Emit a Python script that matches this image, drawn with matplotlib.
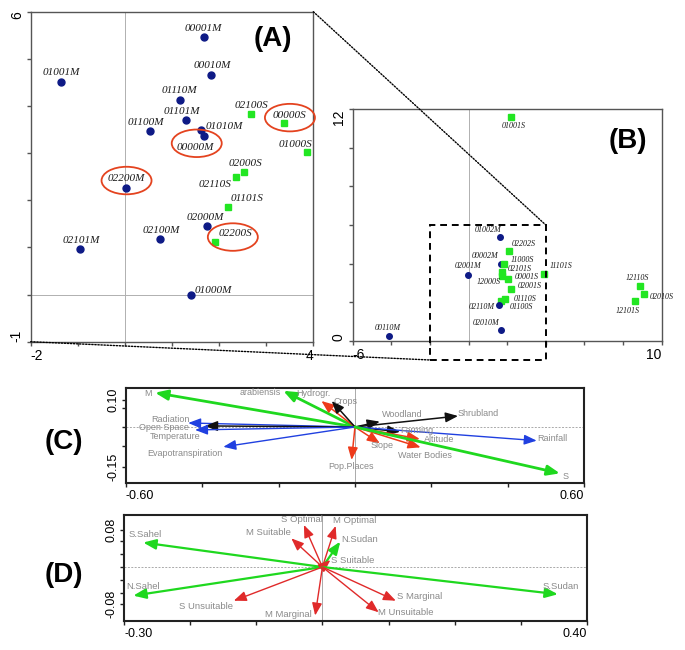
import matplotlib
matplotlib.use("Agg")
import matplotlib.pyplot as plt
from matplotlib.patches import Ellipse, Rectangle, ConnectionPatch

W, H = 685, 650
fig = plt.figure(figsize=(W / 100, H / 100), dpi=100)
SANS = "Liberation Sans"
SERIF = "Liberation Serif"

# ---------------- data ----------------
# Panel A (zoom of ordination)
a_labels = ["00001M", "00010M", "01001M", "01110M", "01101M", "01100M", "01010M", "00000M",
            "02100S", "00000S", "01000S", "02000S", "02110S", "01101S", "02000M", "02200S",
            "02200M", "02100M", "02101M", "01000M"]
a_x = [1.67, 1.83, -1.36, 1.16, 1.30, 0.53, 1.62, 1.68,
       2.68, 3.37, 3.87, 2.53, 2.35, 2.18, 1.75, 1.92,
       0.02, 0.75, -0.95, 1.40]
a_y = [5.46, 4.66, 4.51, 4.13, 3.70, 3.46, 3.50, 3.37,
       3.83, 3.63, 3.02, 2.59, 2.49, 1.86, 1.46, 1.12,
       2.27, 1.17, 0.96, 0.00]
a_circled = ["00000M", "00000S", "02200M", "02200S"]

# Panel B (full ordination)
b_labels = ["01001S", "00110M", "01002M", "02202S", "00002M", "11000S", "02001M", "02101S",
            "12000S", "00001S", "11101S", "02001S", "01110S", "01100S", "02110M", "02010M",
            "12110S", "02010S", "12101S"]
b_x = [2.19, -4.12, 1.63, 2.10, 1.68, 1.86, -0.04, 1.72,
       1.72, 2.03, 3.91, 2.19, 1.89, 1.68, 1.60, 1.68,
       8.89, 9.06, 8.63]
b_y = [11.60, 0.24, 5.36, 4.66, 3.96, 3.96, 3.40, 3.54,
       3.37, 3.18, 3.46, 2.66, 2.18, 2.06, 1.83, 0.55,
       2.83, 2.42, 2.06]

# Panel C (biplot of environmental variables)
c_vars = ["M", "arabiensis", "Hydrogr.", "Crops", "Radiation", "Open Space", "Temperature",
          "Evapotranspiration", "Pop.Places", "Woodland", "Shrubland", "Farming", "Altitude",
          "Slope", "Water Bodies", "Rainfall", "S"]
c_x = [-0.524, -0.188, -0.088, -0.061, -0.437, -0.393, -0.419,
       -0.345, -0.009, 0.065, 0.270, 0.118, 0.170,
       0.065, 0.172, 0.476, 0.537]
c_y = [0.128, 0.135, 0.097, 0.097, 0.015, 0.004, -0.011,
       -0.074, -0.123, 0.020, 0.041, -0.018, -0.045,
       -0.061, -0.076, -0.051, -0.173]
c_group = ["species", "species", "topo", "land", "climate", "land", "climate",
           "climate", "topo", "land", "land", "land", "topo",
           "topo", "topo", "climate", "species"]

# Panel D
d_vars = ["S.Sahel", "N.Sahel", "S Unsuitable", "M Marginal", "M Suitable", "S Optimal",
          "M Optimal", "N.Sudan", "S Suitable", "S.Sudan", "S Marginal", "M Unsuitable"]
d_x = [-0.271, -0.286, -0.134, -0.011, -0.047, -0.028, 0.020, 0.027, 0.012, 0.356, 0.111, 0.085]
d_y = [0.053, -0.062, -0.073, -0.105, 0.062, 0.091, 0.089, 0.055, 0.015, -0.059, -0.073, -0.098]
d_group = ["region", "region", "suit", "suit", "suit", "suit",
           "suit", "region", "suit", "region", "suit", "suit"]

# ---------------- layout / style ----------------
NAVY = "#0e1a86"
LGREEN = "#22e622"
GRAY_TXT = "#8a8a8a"
GROUP_COLOR = {"species": "#1fd81f", "climate": "#2040e0", "land": "#111111",
               "topo": "#ee3a1a", "region": "#1fd81f", "suit": "#e02a2a"}
GROUP_LW = {"species": 2.0, "climate": 1.0, "land": 1.1, "topo": 1.1,
            "region": 1.6, "suit": 1.0}

A_OFF = {"00001M": (0, 9), "00010M": (1, 9), "01001M": (0, 9), "01110M": (0, 9),
         "01101M": (-4, 9), "01100M": (-4, 9), "01010M": (23, 3), "00000M": (-9, -11.5),
         "02100S": (0, 8.5), "00000S": (6, 8), "01000S": (-12, 8), "02000S": (1, 8.7),
         "02110S": (-21, -7), "01101S": (19, 8.5), "02000M": (-2, 8.5), "02200S": (20, 8.7),
         "02200M": (0, 9), "02100M": (1, 8.5), "02101M": (1, 8.5), "01000M": (22, 4)}
A_ELL = {"00000M": (-7.3, -7.6), "00000S": (6.3, 5.8), "02200M": (0.7, 7), "02200S": (17.5, 4.7)}
B_OFF = {"01001S": (3, -9), "00110M": (-1, 8.5), "01002M": (-12, 7), "02202S": (15, 7),
         "00002M": (-16, 8), "11000S": (18, 4), "02001M": (0, 9), "02101S": (18, 3),
         "12000S": (-13, -6), "00001S": (19, 2), "11101S": (17, 8), "02001S": (18.5, 3),
         "01110S": (20, -0.5), "01100S": (20.7, -6.5), "02110M": (-17.6, -1.4),
         "02010M": (-15, 7.5), "12110S": (-2.5, 7.7), "02010S": (18.4, -2.5),
         "12101S": (-7.5, -10.5)}
C_OFF = {"M": (-7, -1.3), "arabiensis": (-23, -1.3), "Hydrogr.": (-8, 7.2), "Crops": (14, -0.3),
         "Radiation": (-17.5, 3.7), "Open Space": (-41, -1.8), "Temperature": (-20, -6.2),
         "Evapotranspiration": (-38.6, -6.3), "Pop.Places": (-0.4, -6.7), "Woodland": (22, 7),
         "Shrubland": (20, 2.7), "Farming": (16.7, 1), "Altitude": (19.5, 0), "Slope": (2, -2.2),
         "Water Bodies": (4.3, -8.2), "Rainfall": (16, 1.7), "S": (5.7, -3)}
D_OFF = {"S.Sahel": (2, 8), "N.Sahel": (10, 8.7), "S Unsuitable": (-27.5, -6),
         "M Marginal": (-27, 1.5), "M Suitable": (-23, 5.8), "S Optimal": (-1.6, 5.2),
         "M Optimal": (19, 5.2), "N.Sudan": (19, 2.2), "S Suitable": (22.5, 0),
         "S.Sudan": (2.5, 8), "S Marginal": (23.3, 4.5), "M Unsuitable": (27, -0.7)}


def rect(l, t, r, b):
    return [l / W, 1 - b / H, (r - l) / W, (b - t) / H]


def style_axes(ax, spine_color, spine_lw, labelsize):
    for s in ax.spines.values():
        s.set_color(spine_color)
        s.set_linewidth(spine_lw)
    ax.tick_params(which="both", direction="out", length=3, width=1, color=spine_color,
                   labelsize=labelsize, pad=2)
    for lab in ax.get_xticklabels() + ax.get_yticklabels():
        lab.set_family(SANS)


def end_labels(ticks, first, last):
    return [first if i == 0 else (last if i == len(ticks) - 1 else "") for i in range(len(ticks))]


def scatter_panel(ax, labels, xs, ys, offsets, ms, fs):
    for lab, x, y in zip(labels, xs, ys):
        if lab.endswith("M"):
            ax.plot(x, y, "o", color=NAVY, ms=ms, mec=NAVY, zorder=3)
        else:
            ax.plot(x, y, "s", color=LGREEN, ms=ms, mec=LGREEN, zorder=3)
        dx, dy = offsets[lab]
        ax.annotate(lab, xy=(x, y), xytext=(dx, dy), textcoords="offset pixels",
                    ha="center", va="center", fontsize=fs, style="italic",
                    family=SERIF, color="#1a1a1a", zorder=4, annotation_clip=False)


def arrow_panel(ax, names, xs, ys, groups, offsets, fs):
    for n, x, y, g in zip(names, xs, ys, groups):
        c = GROUP_COLOR[g]
        ax.annotate("", xy=(x, y), xytext=(0, 0),
                    arrowprops=dict(arrowstyle="-|>,head_length=0.75,head_width=0.3",
                                    color=c, lw=GROUP_LW[g], shrinkA=0, shrinkB=0,
                                    mutation_scale=10), zorder=3)
        dx, dy = offsets[n]
        ax.annotate(n, xy=(x, y), xytext=(dx, dy), textcoords="offset pixels",
                    ha="center", va="center", fontsize=fs, color=GRAY_TXT,
                    family=SANS, zorder=4, annotation_clip=False)


# ---------------- Panel A ----------------
axA = fig.add_axes(rect(30.7, 11.7, 313.3, 341.7))
axA.set_xlim(-2, 4)
axA.set_ylim(-1, 6)
xt = list(range(-2, 5))
yt = list(range(-1, 7))
axA.set_xticks(xt)
axA.set_xticklabels(end_labels(xt, "-2", "4"))
axA.set_yticks(yt)
axA.set_yticklabels(end_labels(yt, "-1", "6"), rotation=90)
style_axes(axA, "#555555", 1.0, 10)
xl = axA.get_xticklabels()
xl[0].set_ha("left"); xl[-1].set_ha("right")
yl = axA.get_yticklabels()
yl[0].set_va("bottom"); yl[-1].set_va("top")
axA.axvline(0, color="#b0b0b0", lw=0.7, zorder=1)
axA.axhline(0, color="#b0b0b0", lw=0.7, zorder=1)
scatter_panel(axA, a_labels, a_x, a_y, A_OFF, 5, 8)
ppu = (313.3 - 30.7) / 6.0
for lab, x, y in zip(a_labels, a_x, a_y):
    if lab in a_circled:
        ex, ey = A_ELL[lab]
        axA.add_patch(Ellipse((x + ex / ppu, y + ey / ppu), 50 / ppu, 27.5 / ppu,
                              fill=False, ec="#e4431f", lw=1.3, zorder=5, clip_on=False))

# ---------------- Panel B ----------------
axB = fig.add_axes(rect(352.7, 109.3, 661.7, 340.7))
axB.set_xlim(-6, 10)
axB.set_ylim(0, 12)
xt = list(range(-6, 11, 2))
yt = list(range(0, 13, 2))
axB.set_xticks(xt)
axB.set_xticklabels(end_labels(xt, "-6", "10"))
axB.set_yticks(yt)
axB.set_yticklabels(end_labels(yt, "0", "12"), rotation=90)
style_axes(axB, "#555555", 1.0, 10)
xl = axB.get_xticklabels()
xl[0].set_ha("left"); xl[-1].set_ha("right")
yl = axB.get_yticklabels()
yl[0].set_va("bottom"); yl[-1].set_va("top")
axB.axvline(0, color="#b0b0b0", lw=0.7, zorder=1)
scatter_panel(axB, b_labels, b_x, b_y, B_OFF, 4, 5.8)
axB.add_patch(Rectangle((-2, -1), 6, 7, fill=False, ec="black", lw=1.4,
                        ls=(0, (3.5, 2.5)), clip_on=False, zorder=6))

# connectors between A and the dashed box in B
for corner in [(4, 6), (-2, -1)]:
    con = ConnectionPatch(xyA=corner, coordsA=axA.transData, xyB=corner, coordsB=axB.transData,
                          color="black", lw=1.0, ls=(0, (1, 1.2)), zorder=7)
    fig.add_artist(con)

# ---------------- Panel C ----------------
axC = fig.add_axes(rect(126, 388, 584, 483))
axC.set_xlim(-0.6, 0.6)
axC.set_ylim(-0.209, 0.1455)
xt = [-0.6, -0.4, -0.2, 0.0, 0.2, 0.4, 0.6]
axC.set_xticks(xt)
axC.set_xticklabels(end_labels(xt, "-0.60", "0.60"))
axC.set_yticks([-0.15, 0.10])
axC.set_yticklabels(["-0.15", "0.10"], rotation=90, va="center")
axC.set_yticks([-0.072, 0.0, 0.072], minor=True)
style_axes(axC, "#222222", 1.5, 9)
xl = axC.get_xticklabels()
xl[0].set_ha("left"); xl[-1].set_ha("right")
axC.axvline(0, color="#aaaaaa", lw=0.7, zorder=1)
axC.axhline(0, color="#aaaaaa", lw=0.7, ls=(0, (2, 1.5)), zorder=1)
arrow_panel(axC, c_vars, c_x, c_y, c_group, C_OFF, 6.5)

# ---------------- Panel D ----------------
axD = fig.add_axes(rect(124, 515, 587, 621))
axD.set_xlim(-0.3, 0.4)
axD.set_ylim(-0.1169, 0.1126)
xt = [-0.3, -0.2, -0.1, 0.0, 0.1, 0.2, 0.3, 0.4]
axD.set_xticks(xt)
axD.set_xticklabels(end_labels(xt, "-0.30", "0.40"))
axD.set_yticks([-0.08, 0.08])
axD.set_yticklabels(["-0.08", "0.08"], rotation=90, va="center")
axD.set_yticks([-0.056, -0.028, 0.0, 0.028, 0.056], minor=True)
style_axes(axD, "#222222", 1.5, 9)
xl = axD.get_xticklabels()
xl[0].set_ha("left"); xl[-1].set_ha("right")
axD.axvline(0, color="#aaaaaa", lw=0.7, zorder=1)
axD.axhline(0, color="#aaaaaa", lw=0.7, ls=(0, (2, 1.5)), zorder=1)
arrow_panel(axD, d_vars, d_x, d_y, d_group, D_OFF, 6.8)

# ---------------- panel letters ----------------
for txt, (px, py) in {"(A)": (273, 38.5), "(B)": (627.5, 140.8),
                      "(C)": (64, 441.7), "(D)": (64, 575)}.items():
    fig.text(px / W, 1 - py / H, txt, ha="center", va="center", fontsize=20,
             fontweight="bold", family=SANS, color="black")

fig.savefig("out.png", dpi=100)
